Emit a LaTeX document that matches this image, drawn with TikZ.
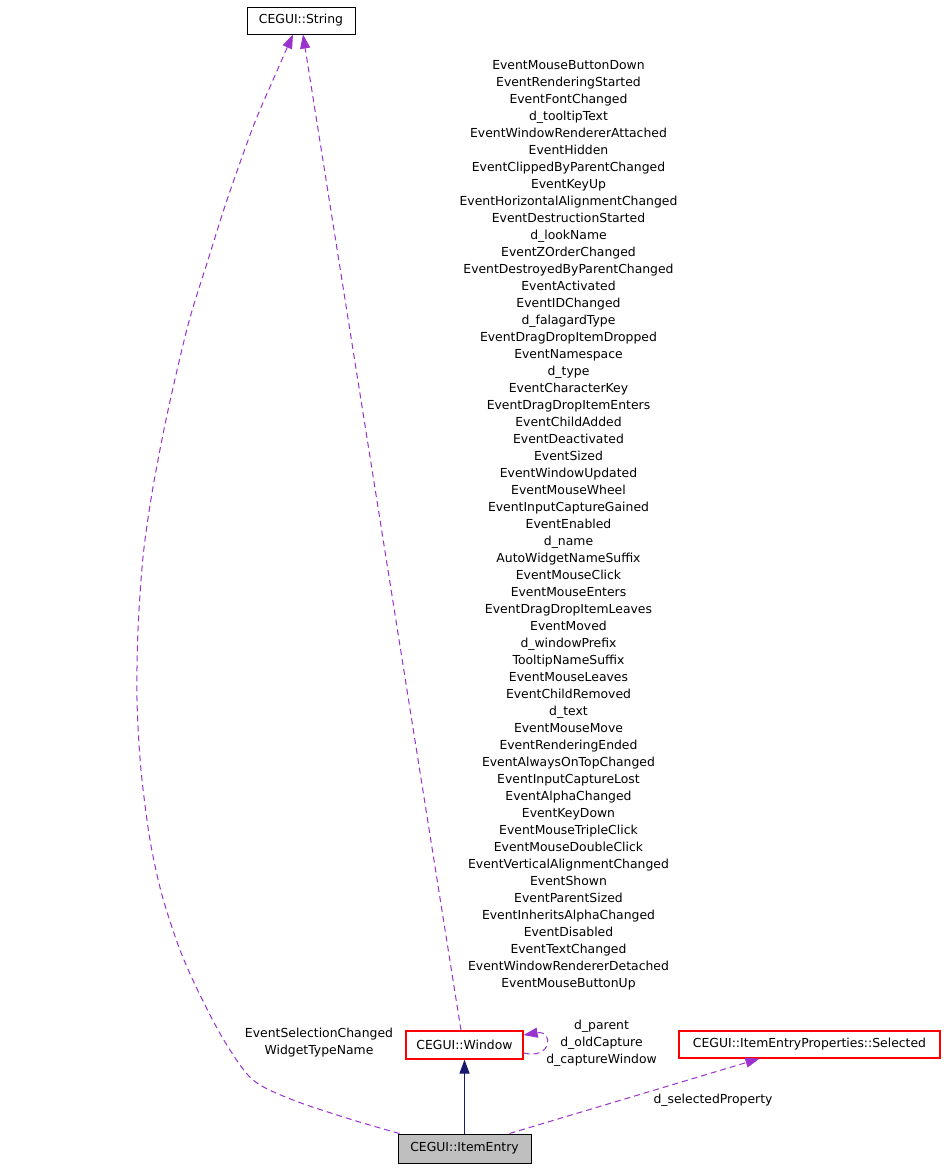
\documentclass[tikz,border=0pt]{standalone}
\usepackage{fontspec}
\setmainfont{DejaVu Sans}
\usetikzlibrary{arrows.meta,calc}
\definecolor{edgepurple}{HTML}{9A32CD}
\definecolor{inhblue}{HTML}{191970}
\definecolor{nodegray}{HTML}{BFBFBF}
\begin{document}
\begin{tikzpicture}[x=1pt,y=-1pt,
  font=\fontsize{12.4}{17}\selectfont,
  box/.style={draw=black,line width=1pt,inner sep=0pt,fill=white},
  redbox/.style={draw=red,line width=1.2pt,inner sep=0pt,fill=white},
  usearrow/.style={draw=edgepurple,line width=1pt,dash pattern=on 6pt off 4pt,
     -{Triangle[length=14pt,width=10pt,fill=edgepurple]}},
  inharrow/.style={draw=inhblue,line width=1.2pt,-{Triangle[length=14pt,width=10pt,fill=inhblue]}},
  lbl/.style={align=center,inner sep=0pt,text=black}]
\useasboundingbox (0,0) rectangle (944,1168);
\fill[white] (0,0) rectangle (944,1168);

% nodes
\node[box,minimum width=108pt,minimum height=27pt] (str) at (301,20.5) {CEGUI::String};
\node[redbox,minimum width=117pt,minimum height=28pt] (win) at (464.5,1045) {CEGUI::Window};
\node[draw=black,line width=1pt,fill=nodegray,inner sep=0pt,minimum width=133pt,minimum height=29pt] (ie) at (464.5,1148.5) {CEGUI::ItemEntry};
\node[redbox,minimum width=261pt,minimum height=27pt] (sel) at (809.5,1044.5) {CEGUI::ItemEntryProperties::Selected};

% labels
\node[lbl] (lblwin) at (568.5,525) {EventMouseButtonDown\\EventRenderingStarted\\EventFontChanged\\d\_tooltipText\\EventWindowRendererAttached\\EventHidden\\EventClippedByParentChanged\\EventKeyUp\\EventHorizontalAlignmentChanged\\EventDestructionStarted\\d\_lookName\\EventZOrderChanged\\EventDestroyedByParentChanged\\EventActivated\\EventIDChanged\\d\_falagardType\\EventDragDropItemDropped\\EventNamespace\\d\_type\\EventCharacterKey\\EventDragDropItemEnters\\EventChildAdded\\EventDeactivated\\EventSized\\EventWindowUpdated\\EventMouseWheel\\EventInputCaptureGained\\EventEnabled\\d\_name\\AutoWidgetNameSuffix\\EventMouseClick\\EventMouseEnters\\EventDragDropItemLeaves\\EventMoved\\d\_windowPrefix\\TooltipNameSuffix\\EventMouseLeaves\\EventChildRemoved\\d\_text\\EventMouseMove\\EventRenderingEnded\\EventAlwaysOnTopChanged\\EventInputCaptureLost\\EventAlphaChanged\\EventKeyDown\\EventMouseTripleClick\\EventMouseDoubleClick\\EventVerticalAlignmentChanged\\EventShown\\EventParentSized\\EventInheritsAlphaChanged\\EventDisabled\\EventTextChanged\\EventWindowRendererDetached\\EventMouseButtonUp};
\node[lbl] (lblie) at (319,1042.5) {EventSelectionChanged\\WidgetTypeName};
\node[lbl] (lblself) at (601.5,1043) {d\_parent\\d\_oldCapture\\d\_captureWindow};
\node[lbl] (lblsel) at (713,1100) {d\_selectedProperty};

% connectors
\draw[inharrow] (ie.north) -- (win.south);
\draw[usearrow] ($(win.north)+(-3.5,0)$) -- ($(str.south)+(2,0)$);
\draw[usearrow] plot[smooth,tension=0.5] coordinates {($(ie.north west)+(2,0)$) (353,1120) (293,1100) (253,1080) (225,1042) (200,995) (180,950) (162,895) (150,840) (141,770) (137,700) (138,630) (143,557) (152,493) (167,415) (188,325) (208,260) (227,200) (253,127) (273,80) ($(str.south)+(-8,0)$)};
\draw[usearrow] ($(win.east)+(0,8)$) .. controls (552,1060) and (554,1030) .. ($(win.east)+(0,-10)$);
\draw[usearrow] ($(ie.north)+(45,0)$) -- ($(sel.south)+(-50,0)$);
\end{tikzpicture}
\end{document}
